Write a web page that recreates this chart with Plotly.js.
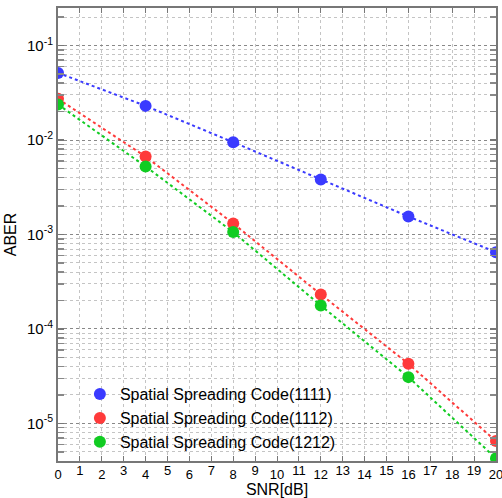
<!DOCTYPE html>
<html>
<head>
<meta charset="utf-8">
<script src="https://cdn.plot.ly/plotly-3.0.1.min.js"></script>
<style>html,body{margin:0;padding:0;background:#fff;}#chart{width:502px;height:498px;}</style>
</head>
<body>
<div id="chart"></div>
<script>
const snr = [0, 4, 8, 12, 16, 20];
const aber1111 = [0.0514, 0.0230, 0.00949, 0.00382, 0.00155, 0.00065];
const aber1112 = [0.0273, 0.00668, 0.00131, 0.000232, 0.0000428, 0.0000065];
const aber1212 = [0.0238, 0.00525, 0.00106, 0.000177, 0.0000309, 0.00000427];
const seriesNames = ['Spatial Spreading Code(1111)', 'Spatial Spreading Code(1112)', 'Spatial Spreading Code(1212)'];
const xTicks = [0,1,2,3,4,5,6,7,8,9,10,11,12,13,14,15,16,17,18,19,20];
const xTicksEven = xTicks.filter(v => v % 2 === 0);
const xTicksOdd = xTicks.filter(v => v % 2 === 1);
const yTickVals = [1e-5, 1e-4, 1e-3, 1e-2, 1e-1];
const yTickText = ['10<sup>-5</sup>', '10<sup>-4</sup>', '10<sup>-3</sup>', '10<sup>-2</sup>', '10<sup>-1</sup>'];

const minorVals = [];
for (let k = -6; k <= -1; k++) {
  for (let m = 2; m <= 9; m++) minorVals.push(m * Math.pow(10, k));
}

const colors = ['#3a3aff', '#ff3a3a', '#11cc22'];
const ys = [aber1111, aber1112, aber1212];
const traces = ys.map((y, i) => ({
  x: snr, y: y, name: seriesNames[i], type: 'scatter', mode: 'lines+markers',
  showlegend: false,
  line: {color: colors[i], dash: 'dot', width: 2},
  marker: {color: colors[i], size: 12}
}));
// legend entries showing markers only, as in the reference
ys.forEach((y, i) => traces.push({
  x: [null], y: [null], name: seriesNames[i], type: 'scatter', mode: 'markers',
  xaxis: 'x2', yaxis: 'y',
  marker: {color: colors[i], size: 12}, showlegend: true
}));

const font = {family: 'Liberation Sans, Arial, sans-serif', color: '#000'};
const tickFontX = Object.assign({size: 13}, font);
const layout = {
  width: 502, height: 498,
  margin: {l: 58, r: 6, t: 8, b: 37},
  paper_bgcolor: '#fff', plot_bgcolor: '#fff',
  font: Object.assign({size: 14}, font),
  showlegend: true,
  legend: {x: 0.05, y: 0.185, xanchor: 'left', yanchor: 'top', bgcolor: 'rgba(255,255,255,0)',
           font: Object.assign({size: 16}, font), itemwidth: 30, tracegroupgap: 0},
  xaxis: {
    range: [0, 20], tickmode: 'array', tickvals: xTicksEven, ticktext: xTicksEven.map(String),
    tickangle: 0,
    ticks: 'inside', ticklen: 5, tickcolor: '#777', tickwidth: 1,
    showline: true, linecolor: '#777', linewidth: 2, mirror: 'allticks',
    showgrid: true, gridcolor: '#c4c4c4', griddash: 'dot', gridwidth: 1,
    minor: {tickmode: 'array', tickvals: xTicksOdd, ticks: 'inside', ticklen: 5, tickcolor: '#777', tickwidth: 1,
            showgrid: true, gridcolor: '#c4c4c4', griddash: 'dot', gridwidth: 1},
    zeroline: false, tickfont: tickFontX, ticklabeloverflow: 'allow',
    title: {text: 'SNR[dB]', font: Object.assign({size: 16}, font), standoff: 6}
  },
  xaxis2: {
    overlaying: 'x', anchor: 'y', side: 'bottom',
    range: [0, 20], tickmode: 'array', tickvals: xTicksOdd, ticktext: xTicksOdd.map(String),
    tickangle: 0, ticks: '', showline: false, showgrid: false, zeroline: false,
    tickfont: tickFontX, ticklabeloverflow: 'allow'
  },
  yaxis: {
    type: 'log', range: [Math.log10(4e-6), Math.log10(0.25)],
    tickmode: 'array', tickvals: yTickVals, ticktext: yTickText,
    ticks: 'inside', ticklen: 6, tickcolor: '#777', tickwidth: 1.5,
    showline: true, linecolor: '#777', linewidth: 2, mirror: 'allticks',
    showgrid: true, gridcolor: '#888', griddash: 'dot', gridwidth: 1,
    zeroline: false, tickfont: Object.assign({size: 15}, font),
    minor: {tickmode: 'array', tickvals: minorVals, ticks: 'inside', ticklen: 5, tickcolor: '#888',
            showgrid: true, gridcolor: '#c4c4c4', griddash: 'dot', gridwidth: 1},
    title: {text: 'ABER', font: Object.assign({size: 16}, font), standoff: 6}
  }
};

Plotly.newPlot('chart', traces, layout, {displayModeBar: false, staticPlot: true});
</script>
</body>
</html>
